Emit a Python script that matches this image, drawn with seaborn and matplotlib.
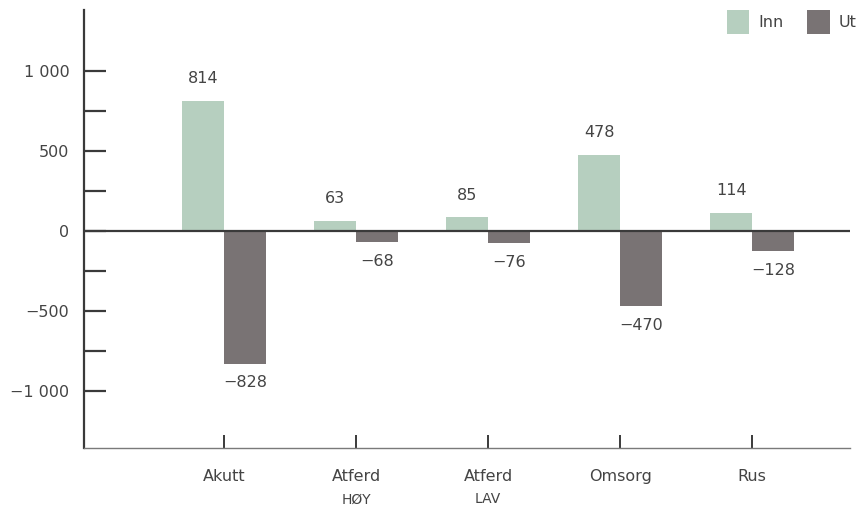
import numpy as np
import pandas as pd
import matplotlib
matplotlib.use('Agg')
import matplotlib.pyplot as plt
from matplotlib.ticker import FixedLocator, FuncFormatter
import seaborn as sns

# Data
kategorier = ['Akutt', 'Atferd HØY', 'Atferd LAV', 'Omsorg', 'Rus']
hoved_etiketter = ['Akutt', 'Atferd', 'Atferd', 'Omsorg', 'Rus']
under_etiketter = ['', 'HØY', 'LAV', '', '']
inn = [814, 63, 85, 478, 114]
ut = [-828, -68, -76, -470, -128]

farger = {'Inn': '#b6cfbf', 'Ut': '#797374'}
tekstfarge = '#444444'

df = pd.DataFrame({
    'kategori': kategorier * 2,
    'verdi': inn + ut,
    'retning': ['Inn'] * len(inn) + ['Ut'] * len(ut),
})

sns.set_theme(style='white')
plt.rcParams['font.family'] = ['DejaVu Sans']

fig = plt.figure(figsize=(8.62, 5.09), dpi=100)
ax = fig.add_axes([84 / 862, 1 - 448 / 509, (850 - 84) / 862, (448 - 10) / 509])

sns.barplot(data=df, x='kategori', y='verdi', hue='retning', palette=farger,
            width=0.636, gap=0, saturation=1, ax=ax, linewidth=0)

ax.set_xlim(-1.06, 4.74)
ax.set_ylim(-1356, 1381)

# verdietiketter
for cont in ax.containers:
    for bar in cont:
        h = bar.get_height()
        x = bar.get_x() + bar.get_width() / 2
        if h >= 0:
            ax.annotate(f'{h:.0f}', (x, h), xytext=(0, 10.5), textcoords='offset points',
                        ha='center', va='bottom', fontsize=11.5, color=tekstfarge)
        else:
            ax.annotate(f'\u2212{abs(h):.0f}', (x, h), xytext=(0, -8.5), textcoords='offset points',
                        ha='center', va='top', fontsize=11.5, color=tekstfarge)

# akser
ax.axhline(0, color='#3a3a3a', lw=1.6, zorder=3)
for s in ['top', 'right']:
    ax.spines[s].set_visible(False)
ax.spines['left'].set_color('#3a3a3a')
ax.spines['left'].set_linewidth(1.6)
ax.spines['bottom'].set_color('#7a7a7a')
ax.spines['bottom'].set_linewidth(1.0)

ax.yaxis.set_major_locator(FixedLocator([-1000, -500, 0, 500, 1000]))
ax.yaxis.set_minor_locator(FixedLocator([-750, -250, 250, 750]))
ax.yaxis.set_major_formatter(FuncFormatter(
    lambda v, p: (('\u2212' if v < 0 else '') + f'{abs(int(v)):,}'.replace(',', ' '))))
ax.tick_params(axis='y', which='both', direction='in', length=16, width=1.6,
               color='#3a3a3a', left=True, pad=10.5, labelsize=11.5, labelcolor=tekstfarge)

ax.set_xticks(range(len(kategorier)))
ax.set_xticklabels(hoved_etiketter)
ax.tick_params(axis='x', direction='in', length=9.5, width=1.4, color='#3a3a3a',
               bottom=True, pad=15, labelsize=11.5, labelcolor=tekstfarge)
for i, sub in enumerate(under_etiketter):
    if sub:
        ax.annotate(sub, (i, 0), xycoords=('data', 'axes fraction'), xytext=(0, -32),
                    textcoords='offset points', ha='center', va='top',
                    fontsize=10, color=tekstfarge)

ax.set_xlabel('')
ax.set_ylabel('')

leg = ax.legend(loc='upper right', bbox_to_anchor=(857 / 862, 1 - 10 / 509),
                bbox_transform=fig.transFigure, ncol=2, frameon=False,
                borderaxespad=0, borderpad=0,
                handlelength=1.4, handleheight=1.9, handletextpad=0.6, columnspacing=1.45,
                fontsize=11.5, labelcolor=tekstfarge)

fig.savefig('out.png', dpi=100)
